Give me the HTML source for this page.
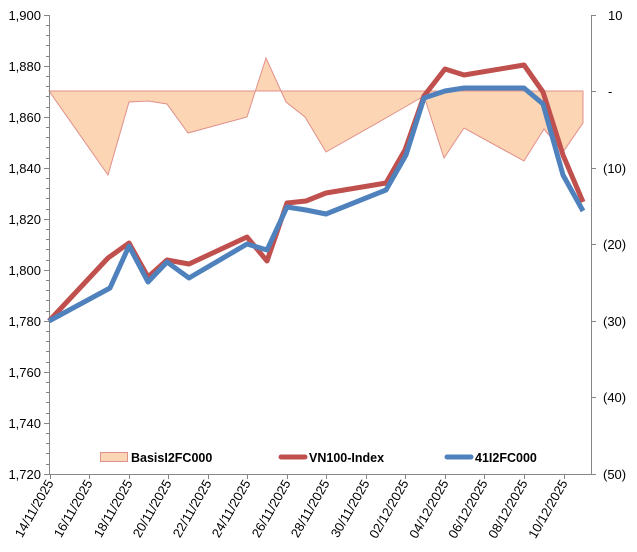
<!DOCTYPE html>
<html><head><meta charset="utf-8"><style>
html,body{margin:0;padding:0;background:#fff;}
svg{display:block;font-family:"Liberation Sans",Arial,sans-serif;}
</style></head><body>
<svg width="637" height="552" viewBox="0 0 637 552" xmlns="http://www.w3.org/2000/svg">
<rect width="637" height="552" fill="#fff"/>
<!-- basis area -->
<polygon points="49,91 108,175 129,102 148,101 167,104 188,133 247,117 266,58 286,102 305,117 326,152 386,118 405,107 424,96 444,158 464,128 524,161 544,129 563,152 583,123 583,91" fill="#fcd5b4" stroke="#e0908a" stroke-width="1" stroke-linejoin="miter"/>
<!-- left axis -->
<g stroke="#868686" stroke-width="1">
<line x1="49.5" y1="15" x2="49.5" y2="475"/>
<line x1="591.5" y1="15" x2="591.5" y2="475"/>
<line x1="49" y1="474.5" x2="591" y2="474.5"/>
</g>
<g stroke="#868686" stroke-width="1" id="lt"></g>
<g font-size="13" fill="#000" text-anchor="end">
<text x="41" y="20">1,900</text>
<text x="41" y="71">1,880</text>
<text x="41" y="122">1,860</text>
<text x="41" y="173">1,840</text>
<text x="41" y="224">1,820</text>
<text x="41" y="275">1,800</text>
<text x="41" y="326">1,780</text>
<text x="41" y="377">1,760</text>
<text x="41" y="428">1,740</text>
<text x="41" y="479">1,720</text>
</g>
<g font-size="13" fill="#000" text-anchor="start">
<text x="608" y="20">10</text>
<text x="608" y="96">-</text>
<text x="603" y="173">(10)</text>
<text x="603" y="249">(20)</text>
<text x="603" y="326">(30)</text>
<text x="603" y="402">(40)</text>
<text x="603" y="479">(50)</text>
</g>
<g stroke="#868686" stroke-width="1">
<path d="M44,15.5h5M44,66.5h5M44,117.5h5M44,168.5h5M44,219.5h5M44,270.5h5M44,321.5h5M44,372.5h5M44,423.5h5M44,474.5h5"/>
<path d="M46,25.5h3M46,35.5h3M46,45.5h3M46,56.5h3M46,76.5h3M46,86.5h3M46,96.5h3M46,107.5h3M46,127.5h3M46,137.5h3M46,147.5h3M46,158.5h3M46,178.5h3M46,188.5h3M46,198.5h3M46,209.5h3M46,229.5h3M46,239.5h3M46,249.5h3M46,260.5h3M46,280.5h3M46,290.5h3M46,300.5h3M46,311.5h3M46,331.5h3M46,341.5h3M46,351.5h3M46,362.5h3M46,382.5h3M46,392.5h3M46,402.5h3M46,413.5h3M46,433.5h3M46,443.5h3M46,453.5h3M46,464.5h3"/>
<path d="M591,15.5h5M591,91.5h5M591,168.5h5M591,244.5h5M591,321.5h5M591,397.5h5M591,474.5h5"/>
<path d="M50.5,474v5M89.5,474v5M129.5,474v5M168.5,474v5M208.5,474v5M247.5,474v5M287.5,474v5M326.5,474v5M366.5,474v5M405.5,474v5M445.5,474v5M484.5,474v5M524.5,474v5M564.5,474v5"/>
</g>
<!-- lines -->
<polyline points="49,321 108,258 129,243 148,277 167,260 189,264 247,237 267,261 287,203 306,201 326,193 386,183 405,150 424,96 445,69 464,75 524,65 543,92 563,155 583,202" fill="none" stroke="#c0504d" stroke-width="5" stroke-linejoin="round"/>
<polyline points="49,321 110,288 129,246 148,282 167,262 189,278 247,244 267,250 287,207 306,210 326,214 386,190 406,155 424,98 445,91 464,88 524,88 543,104 563,175 583,211" fill="none" stroke="#4f81bd" stroke-width="5" stroke-linejoin="round"/>
<!-- legend -->
<rect x="100.5" y="452.5" width="27" height="9" fill="#fcd5b4" stroke="#e0908a"/>
<text x="131" y="462" font-size="12.5" font-weight="bold">BasisI2FC000</text>
<line x1="281" y1="457" x2="305" y2="457" stroke="#c0504d" stroke-width="5" stroke-linecap="round"/>
<text x="309" y="462" font-size="12.5" font-weight="bold">VN100-Index</text>
<line x1="447" y1="457" x2="471" y2="457" stroke="#4f81bd" stroke-width="5" stroke-linecap="round"/>
<text x="475" y="462" font-size="12.5" font-weight="bold">41I2FC000</text>
<!-- x labels -->
<g font-size="13" fill="#000" text-anchor="end">
<text transform="translate(54,483) rotate(-60)">14/11/2025</text>
<text transform="translate(93,483) rotate(-60)">16/11/2025</text>
<text transform="translate(133,483) rotate(-60)">18/11/2025</text>
<text transform="translate(172,483) rotate(-60)">20/11/2025</text>
<text transform="translate(212,483) rotate(-60)">22/11/2025</text>
<text transform="translate(251,483) rotate(-60)">24/11/2025</text>
<text transform="translate(291,483) rotate(-60)">26/11/2025</text>
<text transform="translate(330,483) rotate(-60)">28/11/2025</text>
<text transform="translate(370,483) rotate(-60)">30/11/2025</text>
<text transform="translate(409,483) rotate(-60)">02/12/2025</text>
<text transform="translate(449,483) rotate(-60)">04/12/2025</text>
<text transform="translate(488,483) rotate(-60)">06/12/2025</text>
<text transform="translate(528,483) rotate(-60)">08/12/2025</text>
<text transform="translate(568,483) rotate(-60)">10/12/2025</text>
</g>
</svg>
</body></html>
